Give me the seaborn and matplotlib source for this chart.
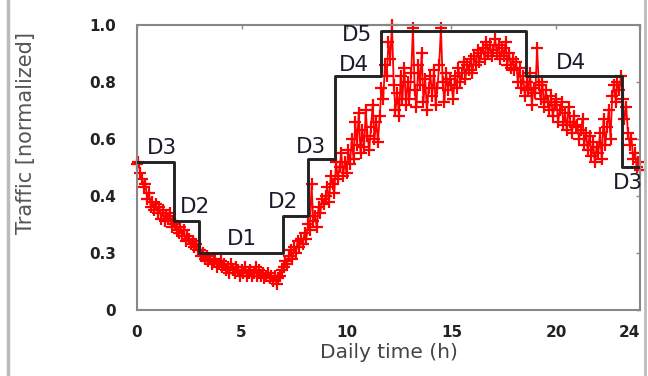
import numpy as np
import pandas as pd
import matplotlib
matplotlib.use("Agg")
import matplotlib.pyplot as plt
from matplotlib.lines import Line2D
import seaborn as sns

# traffic samples, one every 5 minutes (12 per hour), normalized
traffic = [
    0.51, 0.52, 0.48, 0.46, 0.43, 0.44, 0.39, 0.41, 0.36, 0.38, 0.35, 0.37,
    0.34, 0.36, 0.32, 0.35, 0.31, 0.33, 0.32, 0.34, 0.29, 0.31, 0.30, 0.28,
    0.27, 0.29, 0.26, 0.28, 0.24, 0.26, 0.25, 0.23, 0.24, 0.22, 0.23, 0.21,
    0.21, 0.19, 0.20, 0.18, 0.19, 0.17, 0.18, 0.16, 0.17, 0.18, 0.15, 0.16,
    0.17, 0.15, 0.16, 0.14, 0.15, 0.13, 0.16, 0.14, 0.13, 0.15, 0.14, 0.12,
    0.14, 0.13, 0.15, 0.12, 0.13, 0.14, 0.12, 0.13, 0.15, 0.12, 0.14, 0.12,
    0.13, 0.11, 0.12, 0.13, 0.11, 0.12, 0.10, 0.12, 0.09, 0.11, 0.12, 0.14,
    0.15, 0.17, 0.16, 0.19, 0.21, 0.18, 0.22, 0.20, 0.24, 0.22, 0.25, 0.23,
    0.27, 0.25, 0.30, 0.28, 0.44, 0.31, 0.33, 0.29, 0.36, 0.34, 0.39, 0.37,
    0.40, 0.43, 0.38, 0.47, 0.44, 0.41, 0.52, 0.46, 0.50, 0.55, 0.47, 0.52,
    0.48, 0.56, 0.51, 0.60, 0.53, 0.66, 0.58, 0.69, 0.55, 0.63, 0.57, 0.70,
    0.61, 0.56, 0.64, 0.72, 0.60, 0.66, 0.59, 0.68, 0.78, 0.74, 0.86, 0.82,
    0.94, 0.88, 1.00, 0.79, 0.70, 0.76, 0.68, 0.82, 0.74, 0.85, 0.72, 0.80,
    0.74, 0.83, 0.99, 0.77, 0.71, 0.86, 0.79, 0.90, 0.73, 0.81, 0.70, 0.78,
    0.82, 0.75, 0.84, 0.72, 0.78, 0.86, 0.99, 0.80, 0.73, 0.83, 0.77, 0.81,
    0.79, 0.74, 0.82, 0.78, 0.85, 0.80, 0.83, 0.87, 0.81, 0.86, 0.84, 0.88,
    0.83, 0.89, 0.86, 0.91, 0.87, 0.90, 0.92, 0.88, 0.94, 0.90, 0.93, 0.89,
    0.91, 0.95, 0.90, 0.93, 0.88, 0.92, 0.89, 0.94, 0.86, 0.90, 0.85, 0.88,
    0.84, 0.87, 0.80, 0.85, 0.78, 0.82, 0.75, 0.80, 0.77, 0.83, 0.72, 0.78,
    0.76, 0.92, 0.79, 0.74, 0.80, 0.71, 0.77, 0.73, 0.70, 0.75, 0.68, 0.72,
    0.74, 0.66, 0.70, 0.73, 0.65, 0.69, 0.63, 0.71, 0.66, 0.62, 0.68, 0.64,
    0.65, 0.60, 0.63, 0.67, 0.58, 0.62, 0.56, 0.61, 0.54, 0.59, 0.52, 0.57,
    0.55, 0.62, 0.53, 0.67, 0.58, 0.64, 0.70, 0.60, 0.75, 0.79, 0.73, 0.80,
    0.77, 0.82, 0.74, 0.67, 0.71, 0.62, 0.58, 0.60, 0.53, 0.55, 0.50, 0.52,
    0.49,
]
hours = np.linspace(0, 24, len(traffic))

# provisioning levels (step function)
step_edges = [0, 1.8, 2.95, 6.95, 8.15, 9.45, 11.65, 18.55, 23.15, 24]
step_levels = [0.52, 0.31, 0.20, 0.33, 0.53, 0.82, 0.98, 0.82, 0.50]
step_names = ["D3", "D2", "D1", "D2", "D3", "D4", "D5", "D4", "D3"]

xticks = [0, 5, 10, 15, 20, 24]
yticks = [0, 0.2, 0.4, 0.6, 0.8, 1.0]
ytick_labels = ["0", "0.3", "0.4", "0.6", "0.8", "1.0"]

# where each step name is drawn (label centre)
name_pos = [(1.19, 0.568), (2.77, 0.36), (5.0, 0.25), (6.97, 0.38), (8.3, 0.572),
            (10.36, 0.86), (10.5, 0.965), (20.7, 0.867), (23.4, 0.445)]

sns.set_theme(style="white")
plt.rcParams["font.family"] = ["DejaVu Sans"]

df = pd.DataFrame({"hour": hours, "traffic": traffic})
steps = pd.DataFrame({"hour": step_edges, "level": step_levels + [step_levels[-1]]})

fig, ax = plt.subplots(figsize=(6.48, 3.76), dpi=100)
fig.subplots_adjust(left=0.211, right=0.988, bottom=0.176, top=0.934)

sns.lineplot(data=df, x="hour", y="traffic", ax=ax, color="#ff0000", lw=1.3,
             marker="+", markersize=9, markeredgewidth=1.6, mec="#ff0000",
             clip_on=False, zorder=2)
sns.lineplot(data=steps, x="hour", y="level", ax=ax, color="#222222", lw=2.1,
             drawstyle="steps-post", zorder=3)

for name, (x, y) in zip(step_names, name_pos):
    ax.text(x, y, name, ha="center", va="center", fontsize=15.5, color="#1a1a2a", zorder=4)

ax.set_xlim(0, 24)
ax.set_ylim(0, 1)
ax.set_xticks(xticks)
ax.set_xticklabels([str(t) for t in xticks])
ax.set_yticks(yticks)
ax.set_yticklabels(ytick_labels)
ax.tick_params(axis="both", which="both", direction="in", length=3, width=1,
               color="#888888", top=True, right=True, labelsize=11, labelcolor="#222222")
ax.tick_params(axis="x", pad=11)
ax.tick_params(axis="y", pad=15)
for lab in ax.get_xticklabels() + ax.get_yticklabels():
    lab.set_fontweight("bold")
ax.get_xticklabels()[-1].set_horizontalalignment("right")

ax.set_xlabel("Daily time (h)", fontsize=14.5, color="#444444")
ax.set_ylabel("Traffic [normalized]", fontsize=15, color="#555555")
ax.xaxis.set_label_coords(0.5, -0.115)
ax.yaxis.set_label_coords(-0.2, 0.62)

for sp in ax.spines.values():
    sp.set_color("#888888")
    sp.set_linewidth(1.5)

# screenshot borders
fig.add_artist(Line2D([8 / 648, 8 / 648], [0, 1], color="#bbbbbb", lw=2.5))
fig.add_artist(Line2D([645 / 648, 645 / 648], [0, 1], color="#bbbbbb", lw=2))

fig.savefig("out.png", dpi=100)
